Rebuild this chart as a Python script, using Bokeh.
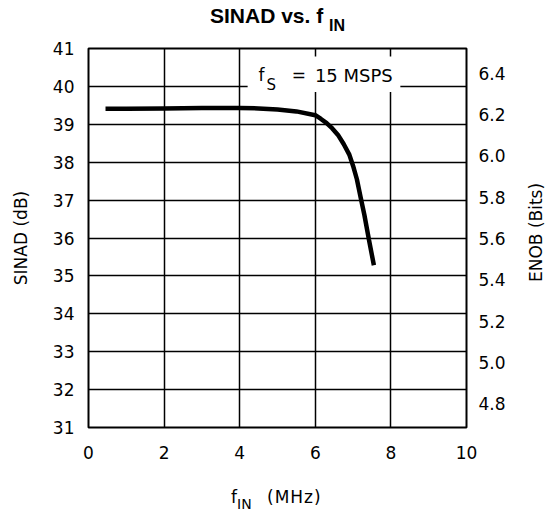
from bokeh.plotting import figure
from bokeh.models import Range1d, LinearAxis, FixedTicker, PrintfTickFormatter, Label, Div
from bokeh.layouts import column
from bokeh.embed import file_html
from bokeh.resources import INLINE

# ---- data ----
fin_mhz = [0.45, 1, 2, 3, 4, 4.5, 5, 5.5, 6, 6.15, 6.3, 6.45, 6.6, 6.75, 6.9, 7.0, 7.1, 7.2, 7.3, 7.42, 7.55]
sinad_db = [39.41, 39.41, 39.42, 39.43, 39.43, 39.42, 39.39, 39.34, 39.24, 39.14, 39.03, 38.89, 38.72, 38.48,
            38.2, 37.9, 37.55, 37.07, 36.6, 35.95, 35.28]
x_ticks = [0, 2, 4, 6, 8, 10]
y_ticks = [31, 32, 33, 34, 35, 36, 37, 38, 39, 40, 41]
enob_ticks = [4.8, 5.0, 5.2, 5.4, 5.6, 5.8, 6.0, 6.2, 6.4]
title_main = "SINAD vs. f"
title_sub = "IN"
xlabel_main = "f"
xlabel_sub = "IN"
xlabel_unit = "(MHz)"
ylabel_left = "SINAD (dB)"
ylabel_right = "ENOB (Bits)"
note_f = "f"
note_sub = "S"
note_eq = "="
note_val = "15 MSPS"

FONT = "DejaVu Sans"
W = 534

p = figure(frame_width=378, frame_height=379, x_range=Range1d(0, 10), y_range=Range1d(31, 41),
           output_backend="svg", toolbar_location=None,
           min_border_left=88, min_border_right=76, min_border_top=10, min_border_bottom=40)
p.title.visible = False
p.background_fill_color = "white"
p.border_fill_color = "white"
p.outline_line_color = "black"
p.outline_line_width = 2

p.extra_y_ranges = {"enob": Range1d(4.684, 6.521)}

# grids
p.xgrid.ticker = FixedTicker(ticks=x_ticks)
p.ygrid.ticker = FixedTicker(ticks=y_ticks)
for g in (p.xgrid, p.ygrid):
    g.grid_line_color = "black"
    g.grid_line_width = 1.5
    g.grid_line_alpha = 1.0

# axes
xa = p.xaxis[0]
xa.ticker = FixedTicker(ticks=x_ticks)
ya = p.yaxis[0]
ya.ticker = FixedTicker(ticks=y_ticks)
ya.axis_label = ylabel_left
ya.axis_label_standoff = 19

ra = LinearAxis(y_range_name="enob", ticker=FixedTicker(ticks=enob_ticks),
                formatter=PrintfTickFormatter(format="%.1f"))
p.add_layout(ra, "right")

for ax in (xa, ya, ra):
    ax.axis_line_color = None
    ax.major_tick_line_color = None
    ax.minor_tick_line_color = None
    ax.major_label_text_font = FONT
    ax.major_label_text_font_size = "17px"
    ax.major_label_text_color = "black"
    ax.axis_label_text_font = FONT
    ax.axis_label_text_font_size = "17px"
    ax.axis_label_text_font_style = "normal"
    ax.axis_label_text_color = "black"
xa.major_label_standoff = 12
ya.major_label_standoff = 8
ra.major_label_standoff = 6

# note box
p.quad(left=[4.21], right=[8.25], bottom=[39.85], top=[40.79], fill_color="white", line_color=None)

# curve
p.line(fin_mhz, sinad_db, line_color="black", line_width=4.5)

def lab(x, y, text, size):
    p.add_layout(Label(x=x, y=y, text=text, text_font=FONT, text_font_size=size,
                       text_align="left", text_baseline="alphabetic", text_color="black"))

# note text
lab(4.50, 40.29, note_f, "17px")
lab(4.71, 40.05, note_sub, "15px")
lab(5.38, 40.29, note_eq, "17px")
lab(5.99, 40.29, note_val, "18px")

# title, x label and right label in HTML so that they can sit outside the plot frame
def span(left, top, size, text, bold=False, font=FONT, spacing=0, extra=""):
    weight = "bold" if bold else "normal"
    return (f'<span style="position:absolute;left:{left}px;top:{top}px;font-family:\'{font}\';'
            f'font-size:{size}px;font-weight:{weight};line-height:{size}px;white-space:nowrap;'
            f'letter-spacing:{spacing}px;color:black;{extra}">{text}</span>')

title_html = ('<div style="position:relative;width:%dpx;height:28px;overflow:visible">' % W
              + span(205, 0, 21, title_main, True, "Liberation Sans")
              + span(324, 13, 16, title_sub, True, "Liberation Sans")
              + '</div>')
title_div = Div(text=title_html, width=W, height=28, styles={"overflow": "visible"})

rot = "width:99px;text-align:center;transform:rotate(-90deg);transform-origin:50% 50%;z-index:5"
xlab_html = ('<div style="position:relative;width:%dpx;height:41px;overflow:visible">' % W
             + span(226, 17, 17, xlabel_main)
             + span(232, 25, 14, xlabel_sub)
             + span(262, 17, 17, xlabel_unit, spacing=1)
             + span(482, -248, 17, ylabel_right, extra=rot)
             + '</div>')
xlab_div = Div(text=xlab_html, width=W, height=41, styles={"overflow": "visible"})

layout = column(title_div, p, xlab_div, spacing=0)

open("out.html", "w").write(file_html(layout, INLINE))
